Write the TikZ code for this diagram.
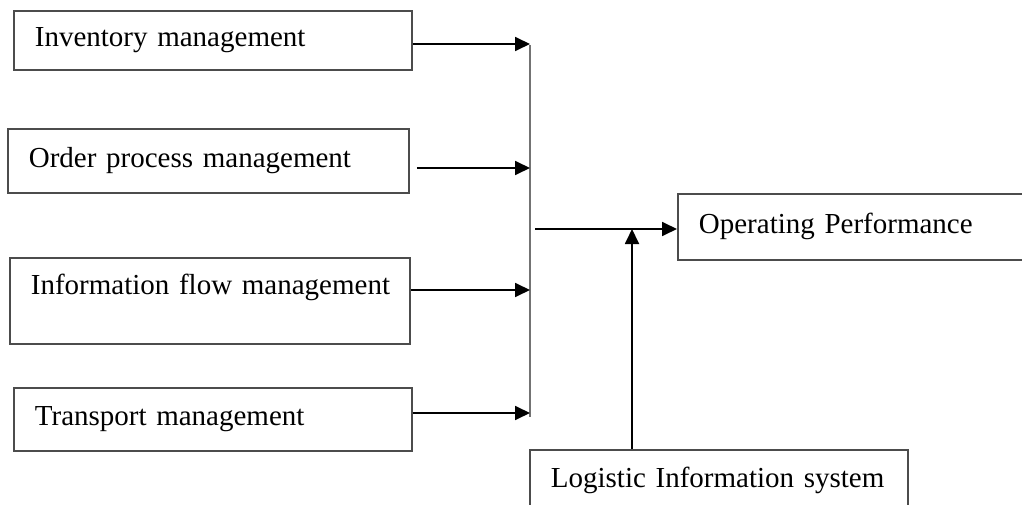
\documentclass[tikz,border=0pt]{standalone}
\usepackage{fontspec}
\setmainfont{Liberation Serif}
\usepackage{tikz}
\usetikzlibrary{positioning,arrows.meta,calc}

\begin{document}
\begin{tikzpicture}[
    x=1pt, y=-1pt,
    box/.style={draw=black!70, line width=1.8pt, anchor=north west, align=left, inner xsep=21pt, inner ysep=0pt, font=\fontsize{29}{34}\selectfont},
    arr/.style={-{Triangle[length=15pt,width=14pt]}, line width=1.8pt},
    bus/.style={draw=black!55, line width=2pt}
]
\useasboundingbox (0,0) rectangle (1022,505);
\clip (0,0) rectangle (1022,505);
\node[box, text width=356pt, minimum height=59pt] (inv) at (13,10) {\mbox{Inventory management}};
\node[box, text width=359pt, minimum height=64pt] (ord) at (7,128) {\mbox{Order process management}};
\node[box, text width=358pt, minimum height=86pt, text depth=34pt] (info) at (9,257) {\mbox{Information flow management}};
\node[box, text width=356pt, minimum height=63pt] (trans) at (13,387) {\mbox{Transport management}};
\node[box, text width=320pt, minimum height=66pt] (perf) at (677,193) {\mbox{Operating Performance}};
\node[box, text width=336pt, minimum height=62pt] (lis) at (529,449) {\mbox{Logistic Information system}};
\coordinate (b1) at (530,44);
\coordinate (b2) at (530,168);
\coordinate (b3) at (530,290);
\coordinate (b4) at (530,413);
\coordinate (bustop) at (530,45);
\coordinate (busbot) at (530,417);
\coordinate (out) at (535,229);
\coordinate (join) at (632,229);
\draw[bus] (bustop) -- (busbot);
\draw[arr] (inv.east |- b1) -- (b1);
\draw[arr] ([xshift=7pt]ord.east |- b2) -- (b2);
\draw[arr] (info.east |- b3) -- (b3);
\draw[arr] (trans.east |- b4) -- (b4);
\draw[arr] (out) -- (perf.west |- out);
\draw[arr] (lis.north -| join) -- (join);
\end{tikzpicture}
\end{document}
